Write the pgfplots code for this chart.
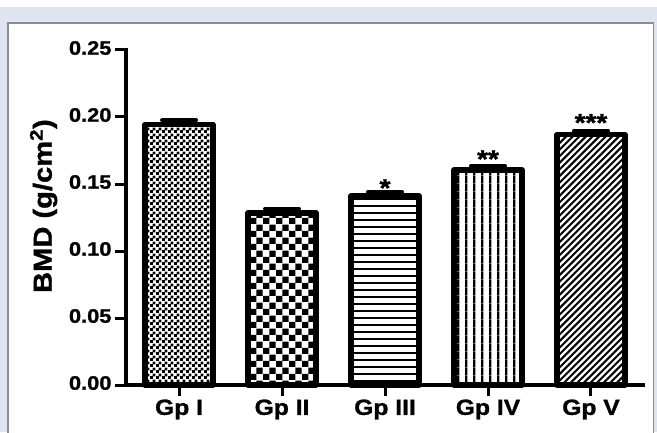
\documentclass[border=0pt]{standalone}
\usepackage{fontspec}
\setmainfont{Liberation Sans}[FakeStretch=1.12, BoldFeatures={FakeBold=1.2}]
\usepackage{pgfplots}
\pgfplotsset{compat=1.18}
\usetikzlibrary{patterns}
\definecolor{bgl}{RGB}{224,228,241}
\definecolor{panelb}{RGB}{140,140,140}

\pgfdeclarepatternformonly{fineChecker}{\pgfqpoint{0pt}{0pt}}{\pgfqpoint{6pt}{6pt}}{\pgfqpoint{6pt}{6pt}}{%
  \pgfpathrectangle{\pgfqpoint{0pt}{0pt}}{\pgfqpoint{3.3pt}{3.3pt}}%
  \pgfpathrectangle{\pgfqpoint{3pt}{3pt}}{\pgfqpoint{3.3pt}{3.3pt}}%
  \pgfusepath{fill}}
\pgfdeclarepatternformonly{coarseChecker}{\pgfqpoint{0pt}{0pt}}{\pgfqpoint{13.2pt}{13.2pt}}{\pgfqpoint{13.2pt}{13.2pt}}{%
  \pgfpathrectangle{\pgfqpoint{0pt}{0pt}}{\pgfqpoint{6.6pt}{6.6pt}}%
  \pgfpathrectangle{\pgfqpoint{6.6pt}{6.6pt}}{\pgfqpoint{6.6pt}{6.6pt}}%
  \pgfusepath{fill}}
\pgfdeclarepatternformonly{hLines}{\pgfqpoint{0pt}{0pt}}{\pgfqpoint{7.3pt}{7.3pt}}{\pgfqpoint{7.3pt}{7.3pt}}{%
  \pgfpathrectangle{\pgfqpoint{0pt}{0pt}}{\pgfqpoint{7.3pt}{2.1pt}}%
  \pgfusepath{fill}}
\pgfdeclarepatternformonly{vLines}{\pgfqpoint{0pt}{0pt}}{\pgfqpoint{8.33pt}{8.33pt}}{\pgfqpoint{8.33pt}{8.33pt}}{%
  \pgfpathrectangle{\pgfqpoint{0pt}{0pt}}{\pgfqpoint{2.5pt}{8.33pt}}%
  \pgfusepath{fill}}
\pgfdeclarepatternformonly{neLines}{\pgfqpoint{-1pt}{-1pt}}{\pgfqpoint{7.5pt}{7.5pt}}{\pgfqpoint{6.6pt}{6.6pt}}{%
  \pgfsetlinewidth{2pt}%
  \pgfpathmoveto{\pgfqpoint{0pt}{0pt}}%
  \pgfpathlineto{\pgfqpoint{6.7pt}{6.7pt}}%
  \pgfusepath{stroke}}

\pgfplotsset{
  barsty/.style={ybar, bar width=68pt, draw=black, line width=5.5pt, line join=round,
    pattern=#1, pattern color=black,
    error bars/.cd, y dir=plus, y explicit, error mark=|,
    error bar style={line width=4pt, black},
    error mark options={black, line width=4pt, mark size=17pt, line cap=round}},
}

\begin{document}
\begin{tikzpicture}
\useasboundingbox (0,0) rectangle (657pt,432pt);
\fill[white] (0,0) rectangle (657pt,432pt);
\fill[bgl] (0,0) rectangle (657pt,425pt);
\filldraw[fill=white, draw=panelb, line width=1.3pt] (8pt,-5pt) rectangle (653.5pt,409pt);
\begin{axis}[
  at={(126pt,47pt)}, anchor=south west,
  scale only axis, width=517pt, height=335pt,
  xmin=-0.515, xmax=4.505, ymin=0, ymax=0.25,
  axis x line*=bottom, axis y line*=left,
  axis line style={line width=4.5pt, black, line cap=rect},
  ytick={0,0.05,0.1,0.15,0.2,0.25},
  yticklabel style={/pgf/number format/fixed, /pgf/number format/fixed zerofill,
    /pgf/number format/precision=2, /pgf/number format/assume math mode=true,
    font=\fontsize{19.5}{22}\selectfont\bfseries, yshift=2pt},
  xtick={0,1,2,3,4},
  xticklabels={Gp I, Gp II, Gp III, Gp IV, Gp V},
  xticklabel style={font=\fontsize{22}{26}\selectfont\bfseries},
  tick align=outside, major tick length=11pt,
  tick style={line width=3pt, black},
  ylabel={BMD (g/cm\textsuperscript{2})},
  every axis y label/.style={at={(axis description cs:-0.1437,0.534)}, rotate=90, anchor=base, font=\fontsize{26}{30}\selectfont\bfseries},
  clip=false,
]
\addplot[barsty=fineChecker]   coordinates {(0,0.1944) +- (0,0.0031)};
\addplot[barsty=coarseChecker] coordinates {(1,0.1285) +- (0,0.0031)};
\addplot[barsty=hLines]        coordinates {(2,0.1410) +- (0,0.0031)};
\addplot[barsty=vLines]        coordinates {(3,0.1604) +- (0,0.0031)};
\addplot[barsty=neLines]       coordinates {(4,0.1868) +- (0,0.0031)};
\node[font=\fontsize{25}{25}\selectfont\bfseries, anchor=base] at (axis cs:2,0.1407) {*};
\node[font=\fontsize{25}{25}\selectfont\bfseries, anchor=base] at (axis cs:3,0.1623) {**};
\node[font=\fontsize{25}{25}\selectfont\bfseries, anchor=base] at (axis cs:4,0.1894) {***};
\end{axis}
\end{tikzpicture}
\end{document}
